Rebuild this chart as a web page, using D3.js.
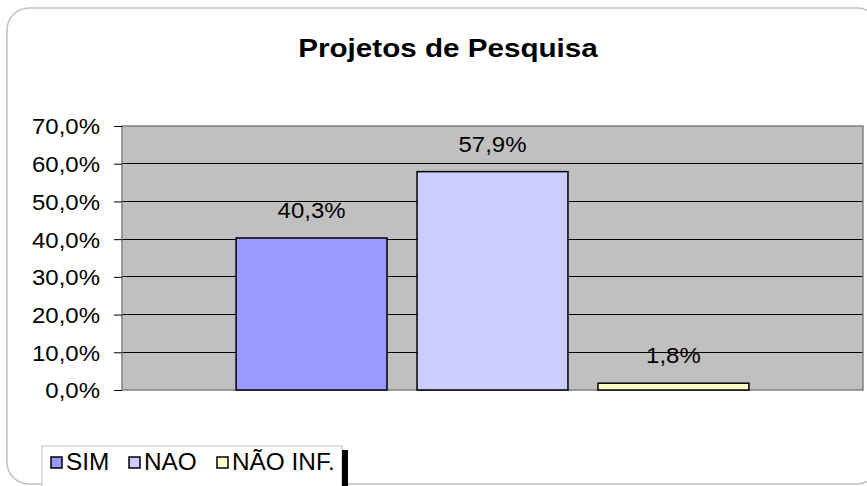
<!DOCTYPE html>
<html>
<head>
<meta charset="utf-8">
<script src="https://cdn.jsdelivr.net/npm/d3@7"></script>
<style>
html,body{margin:0;padding:0;background:#fff;}
svg{display:block;font-family:"Liberation Sans",Arial,sans-serif;}
</style>
</head>
<body>
<svg id="chart" width="867" height="486"></svg>
<script>
// ---- data ----
const title = "Projetos de Pesquisa";
const categories = [""];
const series = ["SIM", "NAO", "NÃO INF."];
const values = [40.3, 57.9, 1.8];
const tickValues = [0, 10, 20, 30, 40, 50, 60, 70];
const seriesColors = ["#9999ff", "#ccccff", "#ffffcc"];

const W = 867, H = 486;
const SX = 1.09;   // horizontal text stretch for numbers
const SXT = 1.14;  // title stretch
const SXL = 1.06;  // legend stretch
const svg = d3.select("#chart");
const locale = d3.formatLocale({decimal: ",", thousands: ".", grouping: [3], currency: ["", ""]});
const fmt = v => locale.format(".1f")(v) + "%";

// outer frame
svg.append("rect").attr("x", 7).attr("y", 8).attr("width", 872).attr("height", 476)
  .attr("rx", 22).attr("ry", 22).attr("fill", "#fff").attr("stroke", "#c0c0c0").attr("stroke-width", 1.5);

// title
svg.append("text").attr("transform", `translate(448,56.5) scale(${SXT},1)`)
  .attr("text-anchor", "middle").attr("font-size", 26).attr("font-weight", "bold").attr("fill", "#000")
  .text(title);

const plot = {left: 122, right: 863, top: 126, bottom: 390};
const y = d3.scaleLinear().domain([0, 70]).range([plot.bottom, plot.top]);
const x0 = d3.scaleBand().domain(categories).range([plot.left, plot.right]).paddingOuter(0.2225);
const x1 = d3.scaleBand().domain(series).range([0, x0.bandwidth()]).paddingInner(0.166).paddingOuter(0);

// plot background
svg.append("rect").attr("x", plot.left).attr("y", plot.top)
  .attr("width", plot.right - plot.left).attr("height", plot.bottom - plot.top)
  .attr("fill", "#c0c0c0");

// gridlines
svg.append("g").selectAll("line").data(tickValues.filter(t => t > 0 && t < 70)).join("line")
  .attr("x1", plot.left).attr("x2", plot.right)
  .attr("y1", d => y(d)).attr("y2", d => y(d))
  .attr("stroke", "#000").attr("stroke-width", 1).attr("shape-rendering", "crispEdges");

// plot border
svg.append("rect").attr("x", plot.left).attr("y", plot.top)
  .attr("width", plot.right - plot.left).attr("height", plot.bottom - plot.top)
  .attr("fill", "none").attr("stroke", "#808080").attr("stroke-width", 1.5);

// y axis
const yAxis = svg.append("g").attr("transform", `translate(${plot.left},0)`)
  .call(d3.axisLeft(y).tickValues(tickValues).tickSize(8).tickFormat(fmt));
yAxis.select(".domain").remove();
yAxis.selectAll(".tick line").attr("stroke", "#000").attr("stroke-width", 1);
yAxis.selectAll(".tick text")
  .attr("x", 0).attr("dy", "0.36em")
  .attr("transform", `translate(-22,0) scale(${SX},1)`)
  .attr("font-size", 22).attr("font-family", "Liberation Sans, Arial, sans-serif").attr("fill", "#000");

// bars
const data = series.map((s, i) => ({s, v: values[i], c: seriesColors[i], cat: categories[0]}));
const gBars = svg.append("g");
gBars.selectAll("rect").data(data).join("rect")
  .attr("x", d => x0(d.cat) + x1(d.s))
  .attr("y", d => y(d.v))
  .attr("width", x1.bandwidth())
  .attr("height", d => y(0) - y(d.v))
  .attr("fill", d => d.c).attr("stroke", "#000").attr("stroke-width", 1.5);

// data labels
gBars.selectAll("text").data(data).join("text")
  .attr("transform", d => `translate(${x0(d.cat) + x1(d.s) + x1.bandwidth() / 2},${y(d.v) - 20}) scale(${SX},1)`)
  .attr("text-anchor", "middle").attr("font-size", 22).attr("fill", "#000")
  .text(d => fmt(d.v));

// legend
const leg = svg.append("g");
leg.append("rect").attr("x", 42).attr("y", 446).attr("width", 300).attr("height", 60)
  .attr("fill", "#fff").attr("stroke", "#c0c0c0").attr("stroke-width", 1);
const legX = [51, 129, 217];
data.forEach((d, i) => {
  leg.append("rect").attr("x", legX[i]).attr("y", 457).attr("width", 11).attr("height", 11)
    .attr("fill", d.c).attr("stroke", "#000").attr("stroke-width", 1.5);
  leg.append("text").attr("transform", `translate(${legX[i] + 15},470) scale(${SXL},1)`)
    .attr("font-size", 23).attr("fill", "#000").text(d.s);
});
// cursor-like black mark
svg.append("rect").attr("x", 342).attr("y", 450).attr("width", 6).attr("height", 36).attr("fill", "#000");
</script>
</body>
</html>
